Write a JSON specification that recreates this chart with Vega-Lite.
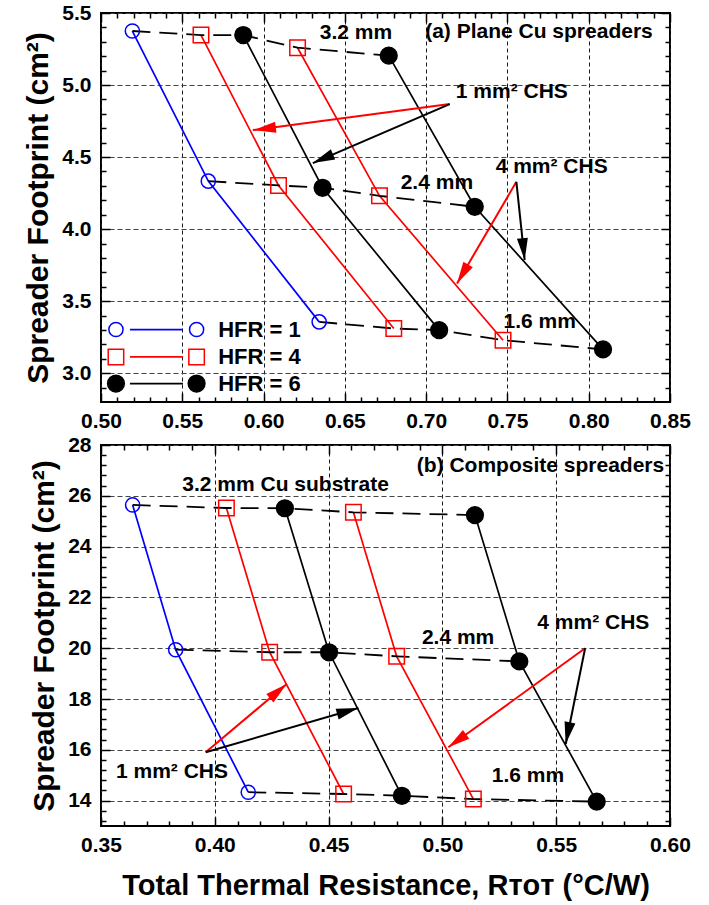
{
  "$schema": "https://vega.github.io/schema/vega-lite/v6.json",
  "background": "white",
  "padding": {"left": 22, "top": 1, "right": 5, "bottom": 5},
  "spacing": 1,
  "config": {
    "font": "Liberation Sans",
    "view": {"stroke": "black", "strokeWidth": 2},
    "axis": {
      "domain": false,
      "labelFont": "Liberation Sans",
      "labelFontSize": 21,
      "labelFontWeight": "bold",
      "labelColor": "black",
      "labelFlush": false,
      "labelOverlap": false,
      "titleFont": "Liberation Sans",
      "titleFontSize": 29,
      "titleFontWeight": "bold",
      "titleColor": "black",
      "tickColor": "black",
      "tickWidth": 1.5,
      "gridWidth": 1
    }
  },
  "datasets": {
    "top": [
      {"hfr": "HFR = 1", "chs": "1 mm2", "t": 3.2, "x": 0.5193, "y": 5.375},
      {"hfr": "HFR = 1", "chs": "1 mm2", "t": 2.4, "x": 0.566, "y": 4.333},
      {"hfr": "HFR = 1", "chs": "1 mm2", "t": 1.6, "x": 0.6342, "y": 3.356},
      {"hfr": "HFR = 4", "chs": "1 mm2", "t": 3.2, "x": 0.5615, "y": 5.347},
      {"hfr": "HFR = 4", "chs": "1 mm2", "t": 2.4, "x": 0.6092, "y": 4.303},
      {"hfr": "HFR = 4", "chs": "1 mm2", "t": 1.6, "x": 0.6801, "y": 3.31},
      {"hfr": "HFR = 6", "chs": "1 mm2", "t": 3.2, "x": 0.5875, "y": 5.347},
      {"hfr": "HFR = 6", "chs": "1 mm2", "t": 2.4, "x": 0.6363, "y": 4.287},
      {"hfr": "HFR = 6", "chs": "1 mm2", "t": 1.6, "x": 0.708, "y": 3.299},
      {"hfr": "HFR = 4", "chs": "4 mm2", "t": 3.2, "x": 0.6209, "y": 5.259},
      {"hfr": "HFR = 4", "chs": "4 mm2", "t": 2.4, "x": 0.6713, "y": 4.231},
      {"hfr": "HFR = 4", "chs": "4 mm2", "t": 1.6, "x": 0.7473, "y": 3.229},
      {"hfr": "HFR = 6", "chs": "4 mm2", "t": 3.2, "x": 0.677, "y": 5.204},
      {"hfr": "HFR = 6", "chs": "4 mm2", "t": 2.4, "x": 0.7299, "y": 4.155},
      {"hfr": "HFR = 6", "chs": "4 mm2", "t": 1.6, "x": 0.8088, "y": 3.165}
    ],
    "bottom": [
      {"hfr": "HFR = 1", "chs": "1 mm2", "t": 3.2, "x": 0.3639, "y": 25.64},
      {"hfr": "HFR = 1", "chs": "1 mm2", "t": 2.4, "x": 0.3828, "y": 19.94},
      {"hfr": "HFR = 1", "chs": "1 mm2", "t": 1.6, "x": 0.4147, "y": 14.33},
      {"hfr": "HFR = 4", "chs": "1 mm2", "t": 3.2, "x": 0.4051, "y": 25.52},
      {"hfr": "HFR = 4", "chs": "1 mm2", "t": 2.4, "x": 0.4241, "y": 19.84},
      {"hfr": "HFR = 4", "chs": "1 mm2", "t": 1.6, "x": 0.4566, "y": 14.26},
      {"hfr": "HFR = 6", "chs": "1 mm2", "t": 3.2, "x": 0.4308, "y": 25.51},
      {"hfr": "HFR = 6", "chs": "1 mm2", "t": 2.4, "x": 0.4502, "y": 19.84},
      {"hfr": "HFR = 6", "chs": "1 mm2", "t": 1.6, "x": 0.4822, "y": 14.19},
      {"hfr": "HFR = 4", "chs": "4 mm2", "t": 3.2, "x": 0.4609, "y": 25.35},
      {"hfr": "HFR = 4", "chs": "4 mm2", "t": 2.4, "x": 0.4799, "y": 19.68},
      {"hfr": "HFR = 4", "chs": "4 mm2", "t": 1.6, "x": 0.5136, "y": 14.06},
      {"hfr": "HFR = 6", "chs": "4 mm2", "t": 3.2, "x": 0.5143, "y": 25.24},
      {"hfr": "HFR = 6", "chs": "4 mm2", "t": 2.4, "x": 0.5338, "y": 19.48},
      {"hfr": "HFR = 6", "chs": "4 mm2", "t": 1.6, "x": 0.5678, "y": 13.96}
    ],
    "topNotes": [
      {"label": "(a) Plane Cu spreaders", "x": 0.7694, "y": 5.366},
      {"label": "3.2 mm", "x": 0.6568, "y": 5.361},
      {"label": "1 mm² CHS", "x": 0.7527, "y": 4.951},
      {"label": "4 mm² CHS", "x": 0.7772, "y": 4.4306},
      {"label": "2.4 mm", "x": 0.7066, "y": 4.319},
      {"label": "1.6 mm", "x": 0.7699, "y": 3.354}
    ],
    "bottomNotes": [
      {"label": "(b) Composite spreaders", "x": 0.5431, "y": 27.185},
      {"label": "3.2 mm Cu substrate", "x": 0.4311, "y": 26.425},
      {"label": "2.4 mm", "x": 0.5069, "y": 20.4},
      {"label": "4 mm² CHS", "x": 0.5663, "y": 20.992},
      {"label": "1.6 mm", "x": 0.5376, "y": 14.98},
      {"label": "1 mm² CHS", "x": 0.3812, "y": 15.114}
    ],
    "topArrows": [
      {"hfr": "HFR = 4", "x": 0.7145, "y": 4.868, "x2": 0.5934, "y2": 4.6875, "hx": 0.6008, "hy": 4.697, "angle": 262.5},
      {"hfr": "HFR = 6", "x": 0.7145, "y": 4.868, "x2": 0.6303, "y2": 4.4583, "hx": 0.6365, "hy": 4.4885, "angle": 246.7},
      {"hfr": "HFR = 4", "x": 0.7555, "y": 4.3285, "x2": 0.719, "y2": 3.6229, "hx": 0.7224, "hy": 3.6889, "angle": 210.3},
      {"hfr": "HFR = 6", "x": 0.7555, "y": 4.3285, "x2": 0.7606, "y2": 3.7847, "hx": 0.7599, "hy": 3.8608, "angle": 174}
    ],
    "bottomArrows": [
      {"hfr": "HFR = 4", "x": 0.5627, "y": 19.996, "x2": 0.5026, "y2": 16.098, "hx": 0.5065, "hy": 16.352, "angle": 234.1},
      {"hfr": "HFR = 6", "x": 0.5627, "y": 19.996, "x2": 0.5542, "y2": 16.228, "hx": 0.5551, "hy": 16.653, "angle": 191.4},
      {"hfr": "HFR = 4", "x": 0.396, "y": 15.902, "x2": 0.4316, "y2": 18.591, "hx": 0.4279, "hy": 18.311, "angle": 49.9},
      {"hfr": "HFR = 6", "x": 0.396, "y": 15.902, "x2": 0.4631, "y2": 17.646, "hx": 0.4584, "hy": 17.525, "angle": 73.8}
    ],
    "legendRows": [
      {"hfr": "HFR = 1", "y": 3.303},
      {"hfr": "HFR = 4", "y": 3.113},
      {"hfr": "HFR = 6", "y": 2.928}
    ]
  },
  "vconcat": [
    {
      "width": 569,
      "height": 389,
      "resolve": {"axis": {"x": "independent", "y": "independent"}},
      "layer": [
        {
          "data": {"name": "top"},
          "mark": {"type": "line", "strokeWidth": 1.7},
          "encoding": {
            "x": {"field": "x", "type": "quantitative", "scale": {"domain": [0.5, 0.85], "nice": false, "zero": false},
              "axis": {"orient": "bottom", "values": [0.5, 0.55, 0.6, 0.65, 0.7, 0.75, 0.8, 0.85], "format": ".2f", "ticks": false, "grid": true, "gridColor": "#1a1a1a", "gridDash": [4, 3], "labelPadding": 8, "title": null}},
            "y": {"field": "y", "type": "quantitative", "scale": {"domain": [2.8, 5.5], "nice": false, "zero": false},
              "axis": {"orient": "left", "values": [3, 3.5, 4, 4.5, 5, 5.5], "format": ".1f", "ticks": false, "grid": true, "gridColor": "#444444", "gridDash": [5, 3], "labelPadding": 10, "title": "Spreader Footprint (cm²)", "titleFontSize": 30, "titlePadding": 8}},
            "color": {"field": "hfr", "type": "nominal", "scale": {"domain": ["HFR = 1", "HFR = 4", "HFR = 6"], "range": ["#0000ff", "#ff0000", "#000000"]}, "legend": null},
            "detail": {"field": "chs", "type": "nominal"}
          }
        },
        {
          "data": {"name": "top"},
          "mark": {"type": "line", "color": "black", "strokeWidth": 1.8, "strokeDash": [18, 9]},
          "encoding": {
            "x": {"field": "x", "type": "quantitative",
              "axis": {"orient": "bottom", "values": [0.5, 0.55, 0.6, 0.65, 0.7, 0.75, 0.8, 0.85], "labels": false, "grid": false, "tickSize": -9, "title": null}},
            "y": {"field": "y", "type": "quantitative",
              "axis": {"orient": "left", "values": [3, 3.5, 4, 4.5, 5, 5.5], "labels": false, "grid": false, "tickSize": -9, "title": null}},
            "detail": {"field": "t", "type": "nominal"}
          }
        },
        {
          "data": {"name": "top"},
          "mark": {"type": "point", "opacity": 1, "strokeWidth": 1.5},
          "encoding": {
            "x": {"field": "x", "type": "quantitative",
              "axis": {"orient": "bottom", "values": [0.51, 0.52, 0.53, 0.54, 0.56, 0.57, 0.58, 0.59, 0.61, 0.62, 0.63, 0.64, 0.66, 0.67, 0.68, 0.69, 0.71, 0.72, 0.73, 0.74, 0.76, 0.77, 0.78, 0.79, 0.81, 0.82, 0.83, 0.84], "labels": false, "grid": false, "tickSize": -5, "title": null}},
            "y": {"field": "y", "type": "quantitative",
              "axis": {"orient": "left", "values": [2.9, 3.1, 3.2, 3.3, 3.4, 3.6, 3.7, 3.8, 3.9, 4.1, 4.2, 4.3, 4.4, 4.6, 4.7, 4.8, 4.9, 5.1, 5.2, 5.3, 5.4], "labels": false, "grid": false, "tickSize": -5, "title": null}},
            "shape": {"field": "hfr", "type": "nominal", "scale": {"domain": ["HFR = 1", "HFR = 4", "HFR = 6"], "range": ["circle", "square", "circle"]}, "legend": null},
            "stroke": {"field": "hfr", "type": "nominal", "scale": {"domain": ["HFR = 1", "HFR = 4", "HFR = 6"], "range": ["#0000ff", "#ff0000", "#000000"]}, "legend": null},
            "fill": {"field": "hfr", "type": "nominal", "scale": {"domain": ["HFR = 1", "HFR = 4", "HFR = 6"], "range": ["transparent", "transparent", "#000000"]}, "legend": null},
            "size": {"field": "hfr", "type": "ordinal", "scale": {"domain": ["HFR = 1", "HFR = 4", "HFR = 6"], "range": [200, 280, 230]}, "legend": null}
          }
        },
        {
          "data": {"name": "topArrows"},
          "mark": {"type": "rule", "strokeWidth": 2},
          "encoding": {
            "x": {"field": "x", "type": "quantitative",
              "axis": {"orient": "top", "values": [0.5, 0.55, 0.6, 0.65, 0.7, 0.75, 0.8, 0.85], "labels": false, "grid": false, "tickSize": -9, "title": null}},
            "y": {"field": "y", "type": "quantitative",
              "axis": {"orient": "right", "values": [3, 3.5, 4, 4.5, 5, 5.5], "labels": false, "grid": false, "tickSize": -9, "title": null}},
            "x2": {"field": "x2"},
            "y2": {"field": "y2"},
            "color": {"field": "hfr", "type": "nominal", "legend": null}
          }
        },
        {
          "data": {"name": "topArrows"},
          "mark": {"type": "point", "shape": "M0,-1L0.5,1L-0.5,1Z", "filled": true, "opacity": 1, "size": 484},
          "encoding": {
            "x": {"field": "hx", "type": "quantitative",
              "axis": {"orient": "top", "values": [0.51, 0.52, 0.53, 0.54, 0.56, 0.57, 0.58, 0.59, 0.61, 0.62, 0.63, 0.64, 0.66, 0.67, 0.68, 0.69, 0.71, 0.72, 0.73, 0.74, 0.76, 0.77, 0.78, 0.79, 0.81, 0.82, 0.83, 0.84], "labels": false, "grid": false, "tickSize": -5, "title": null}},
            "y": {"field": "hy", "type": "quantitative",
              "axis": {"orient": "right", "values": [2.9, 3.1, 3.2, 3.3, 3.4, 3.6, 3.7, 3.8, 3.9, 4.1, 4.2, 4.3, 4.4, 4.6, 4.7, 4.8, 4.9, 5.1, 5.2, 5.3, 5.4], "labels": false, "grid": false, "tickSize": -5, "title": null}},
            "angle": {"field": "angle", "type": "quantitative", "scale": null},
            "color": {"field": "hfr", "type": "nominal", "legend": null}
          }
        },
        {
          "data": {"name": "topNotes"},
          "mark": {"type": "text", "fontSize": 21, "fontWeight": "bold", "align": "center", "baseline": "middle", "color": "black"},
          "encoding": {
            "x": {"field": "x", "type": "quantitative", "axis": null},
            "y": {"field": "y", "type": "quantitative", "axis": null},
            "text": {"field": "label"}
          }
        },
        {
          "data": {"name": "legendRows"},
          "mark": {"type": "rule", "strokeWidth": 1.7},
          "encoding": {
            "x": {"datum": 0.5178, "type": "quantitative", "axis": null},
            "x2": {"datum": 0.5504},
            "y": {"field": "y", "type": "quantitative", "axis": null},
            "color": {"field": "hfr", "type": "nominal", "legend": null}
          }
        },
        {
          "data": {"name": "legendRows"},
          "mark": {"type": "point", "opacity": 1, "strokeWidth": 1.5},
          "encoding": {
            "x": {"datum": 0.5092, "type": "quantitative", "axis": null},
            "y": {"field": "y", "type": "quantitative", "axis": null},
            "shape": {"field": "hfr", "type": "nominal", "legend": null},
            "stroke": {"field": "hfr", "type": "nominal", "legend": null},
            "fill": {"field": "hfr", "type": "nominal", "legend": null},
            "size": {"field": "hfr", "type": "ordinal", "legend": null}
          }
        },
        {
          "data": {"name": "legendRows"},
          "mark": {"type": "point", "opacity": 1, "strokeWidth": 1.5},
          "encoding": {
            "x": {"datum": 0.5588, "type": "quantitative", "axis": null},
            "y": {"field": "y", "type": "quantitative", "axis": null},
            "shape": {"field": "hfr", "type": "nominal", "legend": null},
            "stroke": {"field": "hfr", "type": "nominal", "legend": null},
            "fill": {"field": "hfr", "type": "nominal", "legend": null},
            "size": {"field": "hfr", "type": "ordinal", "legend": null}
          }
        },
        {
          "data": {"name": "legendRows"},
          "mark": {"type": "text", "fontSize": 22, "fontWeight": "bold", "align": "left", "baseline": "middle", "color": "black"},
          "encoding": {
            "x": {"datum": 0.5721, "type": "quantitative", "axis": null},
            "y": {"field": "y", "type": "quantitative", "axis": null},
            "text": {"field": "hfr"}
          }
        }
      ]
    },
    {
      "width": 569,
      "height": 381,
      "resolve": {"axis": {"x": "independent", "y": "independent"}},
      "layer": [
        {
          "data": {"name": "bottom"},
          "mark": {"type": "line", "strokeWidth": 1.7},
          "encoding": {
            "x": {"field": "x", "type": "quantitative", "scale": {"domain": [0.35, 0.6], "nice": false, "zero": false},
              "axis": {"orient": "bottom", "values": [0.35, 0.4, 0.45, 0.5, 0.55, 0.6], "format": ".2f", "ticks": false, "grid": true, "gridColor": "#1a1a1a", "gridDash": [4, 3], "labelPadding": 8, "title": "Total Thermal Resistance, Rᴛᴏᴛ (°C/W)", "titlePadding": 16}},
            "y": {"field": "y", "type": "quantitative", "scale": {"domain": [13, 28], "nice": false, "zero": false},
              "axis": {"orient": "left", "values": [14, 16, 18, 20, 22, 24, 26, 28], "format": "d", "ticks": false, "grid": true, "gridColor": "#444444", "gridDash": [5, 3], "labelPadding": 10, "title": "Spreader Footprint (cm²)", "titleFontSize": 30, "titlePadding": 8}},
            "color": {"field": "hfr", "type": "nominal", "scale": {"domain": ["HFR = 1", "HFR = 4", "HFR = 6"], "range": ["#0000ff", "#ff0000", "#000000"]}, "legend": null},
            "detail": {"field": "chs", "type": "nominal"}
          }
        },
        {
          "data": {"name": "bottom"},
          "mark": {"type": "line", "color": "black", "strokeWidth": 1.8, "strokeDash": [18, 9]},
          "encoding": {
            "x": {"field": "x", "type": "quantitative",
              "axis": {"orient": "bottom", "values": [0.35, 0.4, 0.45, 0.5, 0.55, 0.6], "labels": false, "grid": false, "tickSize": -9, "title": null}},
            "y": {"field": "y", "type": "quantitative",
              "axis": {"orient": "left", "values": [14, 16, 18, 20, 22, 24, 26, 28], "labels": false, "grid": false, "tickSize": -9, "title": null}},
            "detail": {"field": "t", "type": "nominal"}
          }
        },
        {
          "data": {"name": "bottom"},
          "mark": {"type": "point", "opacity": 1, "strokeWidth": 1.5},
          "encoding": {
            "x": {"field": "x", "type": "quantitative",
              "axis": {"orient": "bottom", "values": [0.36, 0.37, 0.38, 0.39, 0.41, 0.42, 0.43, 0.44, 0.46, 0.47, 0.48, 0.49, 0.51, 0.52, 0.53, 0.54, 0.56, 0.57, 0.58, 0.59], "labels": false, "grid": false, "tickSize": -5, "title": null}},
            "y": {"field": "y", "type": "quantitative",
              "axis": {"orient": "left", "values": [13.2, 13.6, 14.4, 14.8, 15.2, 15.6, 16.4, 16.8, 17.2, 17.6, 18.4, 18.8, 19.2, 19.6, 20.4, 20.8, 21.2, 21.6, 22.4, 22.8, 23.2, 23.6, 24.4, 24.8, 25.2, 25.6, 26.4, 26.8, 27.2, 27.6], "labels": false, "grid": false, "tickSize": -5, "title": null}},
            "shape": {"field": "hfr", "type": "nominal", "scale": {"domain": ["HFR = 1", "HFR = 4", "HFR = 6"], "range": ["circle", "square", "circle"]}, "legend": null},
            "stroke": {"field": "hfr", "type": "nominal", "scale": {"domain": ["HFR = 1", "HFR = 4", "HFR = 6"], "range": ["#0000ff", "#ff0000", "#000000"]}, "legend": null},
            "fill": {"field": "hfr", "type": "nominal", "scale": {"domain": ["HFR = 1", "HFR = 4", "HFR = 6"], "range": ["transparent", "transparent", "#000000"]}, "legend": null},
            "size": {"field": "hfr", "type": "ordinal", "scale": {"domain": ["HFR = 1", "HFR = 4", "HFR = 6"], "range": [200, 280, 230]}, "legend": null}
          }
        },
        {
          "data": {"name": "bottomArrows"},
          "mark": {"type": "rule", "strokeWidth": 2},
          "encoding": {
            "x": {"field": "x", "type": "quantitative",
              "axis": {"orient": "top", "values": [0.35, 0.4, 0.45, 0.5, 0.55, 0.6], "labels": false, "grid": false, "tickSize": -9, "title": null}},
            "y": {"field": "y", "type": "quantitative",
              "axis": {"orient": "right", "values": [14, 16, 18, 20, 22, 24, 26, 28], "labels": false, "grid": false, "tickSize": -9, "title": null}},
            "x2": {"field": "x2"},
            "y2": {"field": "y2"},
            "color": {"field": "hfr", "type": "nominal", "legend": null}
          }
        },
        {
          "data": {"name": "bottomArrows"},
          "mark": {"type": "point", "shape": "M0,-1L0.5,1L-0.5,1Z", "filled": true, "opacity": 1, "size": 484},
          "encoding": {
            "x": {"field": "hx", "type": "quantitative",
              "axis": {"orient": "top", "values": [0.36, 0.37, 0.38, 0.39, 0.41, 0.42, 0.43, 0.44, 0.46, 0.47, 0.48, 0.49, 0.51, 0.52, 0.53, 0.54, 0.56, 0.57, 0.58, 0.59], "labels": false, "grid": false, "tickSize": -5, "title": null}},
            "y": {"field": "hy", "type": "quantitative",
              "axis": {"orient": "right", "values": [13.2, 13.6, 14.4, 14.8, 15.2, 15.6, 16.4, 16.8, 17.2, 17.6, 18.4, 18.8, 19.2, 19.6, 20.4, 20.8, 21.2, 21.6, 22.4, 22.8, 23.2, 23.6, 24.4, 24.8, 25.2, 25.6, 26.4, 26.8, 27.2, 27.6], "labels": false, "grid": false, "tickSize": -5, "title": null}},
            "angle": {"field": "angle", "type": "quantitative", "scale": null},
            "color": {"field": "hfr", "type": "nominal", "legend": null}
          }
        },
        {
          "data": {"name": "bottomNotes"},
          "mark": {"type": "text", "fontSize": 21, "fontWeight": "bold", "align": "center", "baseline": "middle", "color": "black"},
          "encoding": {
            "x": {"field": "x", "type": "quantitative", "axis": null},
            "y": {"field": "y", "type": "quantitative", "axis": null},
            "text": {"field": "label"}
          }
        }
      ]
    }
  ]
}
